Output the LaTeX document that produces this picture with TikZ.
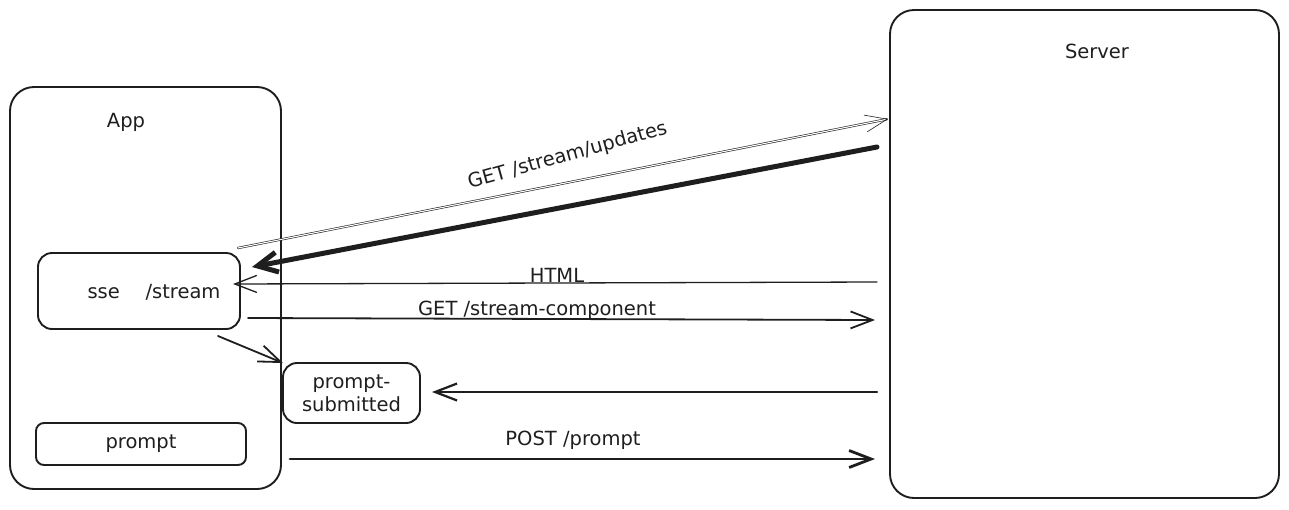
\documentclass[tikz,border=0pt]{standalone}
\usepackage{fontspec}
\setmainfont{DejaVu Sans}
\usepackage{tikz}
\usetikzlibrary{arrows.meta}

\begin{document}
\begin{tikzpicture}[x=1pt,y=-1pt,line cap=round,
		box/.style={draw=custcol_1e_1e_1e, line width=1.9pt, inner sep=0, outer sep=0},
		lbl/.style={inner sep=0, outer sep=0, text=custcol_1e_1e_1e, font=\fontsize{19.5pt}{23pt}\selectfont},
		barb/.style={-{Straight Barb[length=22pt,width=17pt]}}]
					\definecolor{custcol_1e_1e_1e}{RGB}{30, 30, 30}
					\useasboundingbox (0,0) rectangle (1289,509);
					% boxes
					\node[box, rounded corners=24pt, minimum width=271pt, minimum height=402pt] (app) at (145.5,288) {};
					\node[box, rounded corners=24pt, minimum width=389pt, minimum height=488pt] (server) at (1084.5,254) {};
					\node[box, rounded corners=14pt, minimum width=202pt, minimum height=76pt] (sse) at (139,291) {};
					\node[box, lbl, rounded corners=14pt, minimum width=137pt, minimum height=60pt, align=center] (psub) at (351.5,393) {prompt-\\submitted};
					\node[box, lbl, rounded corners=8pt, minimum width=210pt, minimum height=42pt] (prompt) at (141,444) {prompt};
					\node[lbl, anchor=base] (applbl) at (126,127) {App};
					\node[lbl, anchor=base] (serverlbl) at (1097,58) {Server};
					\node[lbl] (sselbl) at (154,292) {sse\quad\ /stream};
					% connectors
					\draw [custcol_1e_1e_1e, line width=0.6pt, double distance=1.1pt, barb] ([shift={(-2,-5)}]sse.north east) -- ([shift={(-2,-135)}]server.west);
					\draw [custcol_1e_1e_1e, line width=5pt, -{Straight Barb[length=20pt,width=20pt]}] ([shift={(-13,-107)}]server.west) -- ([shift={(12,14)}]sse.north east);
					\draw [custcol_1e_1e_1e, line width=1.3pt, barb] ([shift={(-13,28)}]server.west) -- ([shift={(-7,-7)}]sse.east);
					\draw [custcol_1e_1e_1e, line width=1.8pt, barb] ([shift={(8,27)}]sse.east) -- ([shift={(-15,66)}]server.west);
					\draw [custcol_1e_1e_1e, line width=1.8pt, barb] ([shift={(-22,7)}]sse.south east) -- (psub.north west);
					\draw [custcol_1e_1e_1e, line width=2.2pt, barb] ([shift={(-13,138)}]server.west) -- ([shift={(12,-1)}]psub.east);
					\draw [custcol_1e_1e_1e, line width=2.8pt, barb] ([shift={(44,15)}]prompt.east) -- ([shift={(-15,205)}]server.west);
					% labels
					\node[lbl, anchor=base, rotate=15.6] (updateslbl) at (569,161) {GET /stream/updates};
					\node[lbl, anchor=base] (htmllbl) at (557,282) {HTML};
					\node[lbl, anchor=base] (complbl) at (537,315) {GET /stream-component};
					\node[lbl, anchor=base] (postlbl) at (573,445) {POST /prompt};
				\end{tikzpicture}
\end{document}
